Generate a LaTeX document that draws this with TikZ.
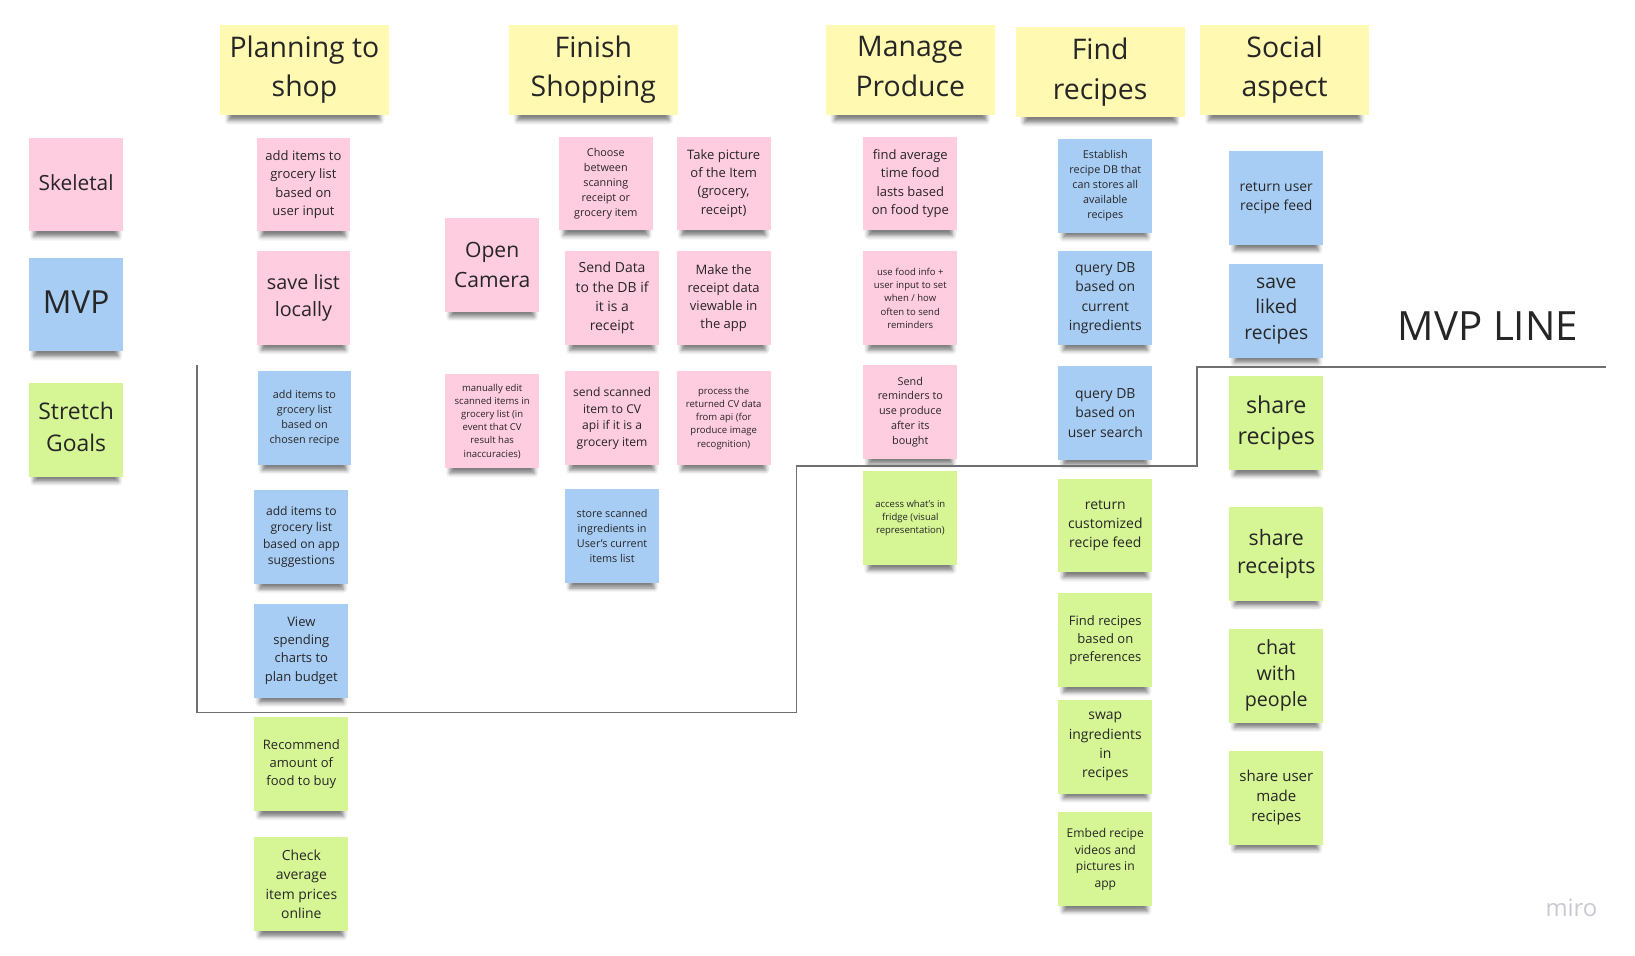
\documentclass[tikz,border=0pt]{standalone}
\usepackage{fontspec}
\setmainfont{Open Sans}
\usetikzlibrary{shadows.blur}

\definecolor{stickyPink}{HTML}{FFCCE0}
\definecolor{stickyBlue}{HTML}{A8CDF5}
\definecolor{stickyGreen}{HTML}{D6F594}
\definecolor{stickyYellow}{HTML}{FFF9B1}
\definecolor{stickyText}{HTML}{262626}
\definecolor{lineGray}{HTML}{707070}
\definecolor{miroGray}{HTML}{C8C8D2}

\begin{document}
\begin{tikzpicture}[x=0.2mm, y=-0.2mm,
		sticky/.style={rectangle, minimum width=18mm, minimum height=18mm, inner sep=1pt, align=center, text=stickyText,
			blur shadow={shadow xshift=0pt, shadow yshift=-6pt, shadow scale=0.9, shadow blur radius=2.5pt, shadow opacity=50}},
		header/.style={sticky, fill=stickyYellow, minimum width=32.4mm, minimum height=17.4mm, font=\fontsize{15.5}{21.5}\selectfont},
		pinkNote/.style={sticky, fill=stickyPink},
		blueNote/.style={sticky, fill=stickyBlue},
		greenNote/.style={sticky, fill=stickyGreen},
		noteXS/.style={font=\fontsize{5.2}{7.2}\selectfont},
		noteS/.style={font=\fontsize{5.9}{8.1}\selectfont},
		noteM/.style={font=\fontsize{6.6}{9}\selectfont},
		noteL/.style={font=\fontsize{7.1}{9.9}\selectfont},
		noteXL/.style={font=\fontsize{7.6}{10.6}\selectfont}]
	\useasboundingbox (0,0) rectangle (1568,916);

	% key
	\node[pinkNote, font=\fontsize{11.4}{16}\selectfont](skeletalKey) at (73,177){\raisebox{2pt}{Skeletal}};
	\node[blueNote, font=\fontsize{17.3}{24}\selectfont](mvpKey) at (73,292){\raisebox{2pt}{MVP}};
	\node[greenNote, font=\fontsize{12.5}{17.3}\selectfont](stretchKey) at (73,412){Stretch\\Goals\vphantom{y}};

	% planning to shop
	\node[header](planHeader) at (292,67){Planning to\\shop};
	\node[pinkNote, noteL](planUserInput) at (291,177){add items to\\grocery list\\based on\\user input};
	\node[pinkNote, font=\fontsize{10.8}{14.6}\selectfont](planSaveList) at (291,286){save list\\locally};
	\node[blueNote, noteS](planRecipe) at (292,401){add items to\\grocery list\\based on\\chosen recipe};
	\node[blueNote, noteM](planSuggest) at (289,515){add items to\\grocery list\\based on app\\suggestions};
	\node[blueNote, noteL](planBudget) at (289,624){View\\spending\\charts to\\plan budget};
	\node[greenNote, noteL](planAmount) at (289,733){Recommend\\amount of\\food to buy};
	\node[greenNote, noteXL](planPrices) at (289,848){Check\\average\\item prices\\online};

	% finish shopping
	\node[header](finishHeader) at (569,67){Finish\\Shopping};
	\node[pinkNote, font=\fontsize{11.5}{16}\selectfont](finishCamera) at (472,254){Open\\Camera};
	\node[pinkNote, noteS](finishChoose) at (581,176){Choose\\between\\scanning\\receipt or\\grocery item};
	\node[pinkNote, noteL](finishPicture) at (694,176){Take picture\\of the Item\\(grocery,\\receipt)};
	\node[pinkNote, noteXL](finishSendDB) at (587,286){Send Data\\to the DB if\\it is a\\receipt};
	\node[pinkNote, noteL](finishViewable) at (694,286){Make the\\receipt data\\viewable in\\the app};
	\node[pinkNote, noteXS](finishEdit) at (472,404){manually edit\\scanned items in\\grocery list (in\\event that CV\\result has\\inaccuracies)};
	\node[pinkNote, noteM](finishSendCV) at (587,401){send scanned\\item to CV\\api if it is a\\grocery item};
	\node[pinkNote, noteXS](finishProcess) at (694,401){process the\\returned CV data\\from api (for\\produce image\\recognition)};
	\node[blueNote, noteS](finishStore) at (587,514){store scanned\\ingredients in\\User's current\\items list};

	% manage produce
	\node[header](produceHeader) at (873,67){Manage\\Produce\vphantom{g}};
	\node[pinkNote, noteL](produceAverage) at (873,176){find average\\time food\\lasts based\\on food type};
	\node[pinkNote, noteXS](produceInfo) at (873,286){use food info +\\user input to set\\when / how\\often to send\\reminders};
	\node[pinkNote, noteS](produceRemind) at (873,395){Send\\reminders to\\use produce\\after its\\bought};
	\node[greenNote, noteXS](produceFridge) at (873,497){access what's in\\fridge (visual\\representation)};

	% find recipes
	\node[header](recipeHeader) at (1055,69){Find\\recipes};
	\node[blueNote, noteS](recipeEstablish) at (1060,178){Establish\\recipe DB that\\can stores all\\available\\recipes};
	\node[blueNote, noteXL](recipeCurrent) at (1060,286){query DB\\based on\\current\\ingredients};
	\node[blueNote, noteXL](recipeSearch) at (1060,396){query DB\\based on\\user search};
	\node[greenNote, noteXL](recipeCustom) at (1060,504){return\\customized\\recipe feed};
	\node[greenNote, noteL](recipePrefs) at (1060,614){Find recipes\\based on\\preferences};
	\node[greenNote, noteXL](recipeSwap) at (1060,716){swap\\ingredients\\in\\recipes};
	\node[greenNote, noteM](recipeEmbed) at (1060,824){Embed recipe\\videos and\\pictures in\\app};

	% social aspect
	\node[header](socialHeader) at (1232,67){Social\\aspect};
	\node[blueNote, noteXL](socialFeed) at (1224,190){return user\\recipe feed};
	\node[blueNote, font=\fontsize{10.5}{14}\selectfont](socialLiked) at (1224,298){save\\liked\\recipes};
	\node[greenNote, font=\fontsize{12.7}{16.9}\selectfont](socialShareRecipes) at (1224,406){share\\recipes};
	\node[greenNote, font=\fontsize{11.6}{15.4}\selectfont](socialReceipts) at (1224,531){share\\receipts};
	\node[greenNote, font=\fontsize{10.7}{14.2}\selectfont](socialChat) at (1224,648){chat\\with\\people};
	\node[greenNote, font=\fontsize{8.2}{11.1}\selectfont](socialUserMade) at (1224,765){share user\\made\\recipes};

	% mvp line
	\coordinate(mvpTop) at (189,350);
	\coordinate(mvpLeftLow) at (189,683);
	\coordinate(mvpStepLow) at (764,683);
	\coordinate(mvpStepMid) at (764,447);
	\coordinate(mvpStepRight) at (1148,447);
	\coordinate(mvpStepHigh) at (1148,352);
	\coordinate(mvpEnd) at (1540,352);
	\draw[lineGray, line width=0.7pt] (mvpTop) -- (mvpLeftLow) -- (mvpStepLow) -- (mvpStepMid) -- (mvpStepRight) -- (mvpStepHigh) -- (mvpEnd);
	\node[text=stickyText, font=\fontsize{22}{26}\selectfont](mvpLineLabel) at (1427,313){MVP LINE};

	\node[text=miroGray, font=\fontsize{13}{15}\selectfont](miroMark) at (1507,871){miro};
\end{tikzpicture}
\end{document}
